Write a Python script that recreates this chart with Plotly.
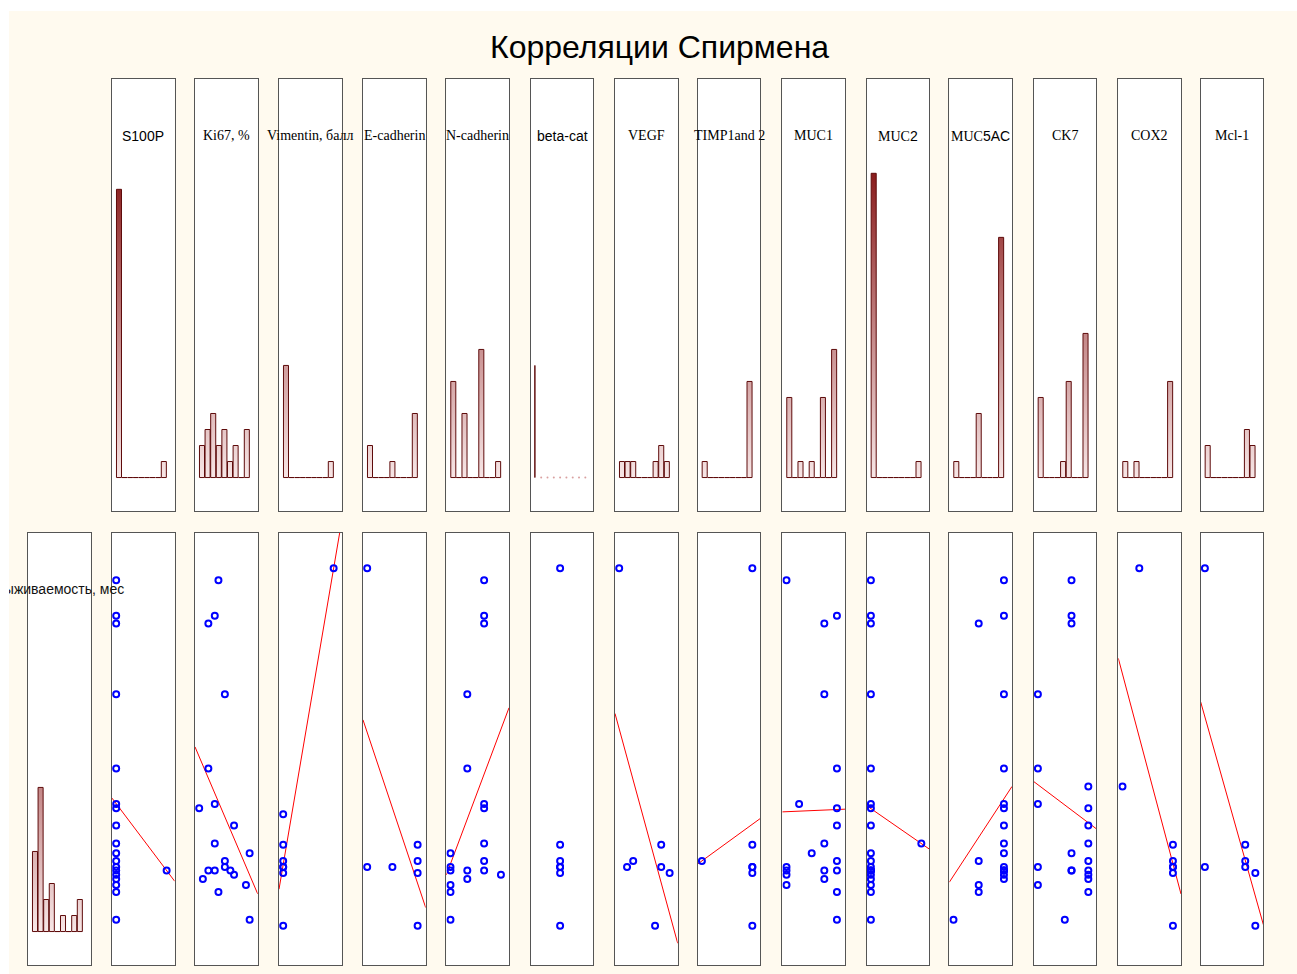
import numpy as np
import plotly.graph_objects as go

# ---------------- data ----------------
TITLE = "Корреляции Спирмена"
SURV_LABEL = "Выживаемость, мес"

labels = ["S100P", "Ki67, %", "Vimentin, балл", "E-cadherin", "N-cadherin",
          "beta-cat", "VEGF", "TIMP1and 2", "MUC1", "MUC2", "MUC5AC",
          "CK7", "COX2", "Mcl-1"]

# x = marker value, y = survival, months
s100p_x = [0, 0, 0, 0, 0, 0, 0, 0, 0, 0, 0, 0, 0, 0, 0, 0, 0, 0, 1]
s100p_y = [59.6, 53.7, 52.4, 40.6, 28.2, 22.3, 21.6, 18.7, 15.7, 14.1, 12.8,
           11.8, 11.2, 10.5, 9.8, 8.8, 7.6, 3.0, 11.2]

ki67_x = [26, 22, 15, 33, 15, 5, 22, 43, 22, 60, 33, 33, 15, 22, 39, 43, 9, 56, 26, 60]
ki67_y = [59.6, 53.7, 52.4, 40.6, 28.2, 21.6, 22.3, 18.7, 15.7, 14.1, 12.8,
          11.8, 11.2, 11.2, 11.2, 10.5, 9.8, 8.8, 7.6, 3.0]

vim_x = [0, 0, 0, 0, 0, 0, 0, 3]
vim_y = [20.6, 15.5, 12.8, 11.8, 11.8, 10.8, 2.0, 61.6]

ecad_x = [0, 0, 1, 2, 2, 2, 2]
ecad_y = [61.6, 11.8, 11.8, 15.5, 12.8, 10.8, 2.0]

ncad_x = [2, 2, 2, 1, 1, 2, 2, 2, 0, 0, 0, 1, 2, 2, 3, 1, 0, 0, 0]
ncad_y = [59.6, 53.7, 52.4, 40.6, 28.2, 22.3, 21.6, 15.7, 14.1, 11.8, 11.2,
          11.2, 12.8, 11.2, 10.5, 9.8, 8.8, 7.6, 3.0]

bcat_x = [2, 2, 2, 2, 2, 2, 2]
bcat_y = [61.6, 15.5, 12.8, 11.8, 11.8, 10.8, 2.0]

vegf_x = [0, 1.4, 2.5, 7.5, 7.5, 9, 6.4]
vegf_y = [61.6, 11.8, 12.8, 15.5, 11.8, 10.8, 2.0]

timp_x = [0, 1, 1, 1, 1, 1, 1]
timp_y = [12.8, 61.6, 15.5, 11.8, 11.8, 10.8, 2.0]

muc1_x = [0, 0, 0, 0, 0, 1, 2, 3, 3, 3, 3, 3, 4, 4, 4, 4, 4, 4, 4, 4]
muc1_y = [59.6, 11.8, 11.2, 10.5, 8.8, 22.3, 14.1, 52.4, 40.6, 15.7, 11.2,
          9.8, 53.7, 28.2, 21.6, 18.7, 12.8, 11.2, 7.6, 3.0]

muc2_x = [0, 0, 0, 0, 0, 0, 0, 0, 0, 0, 0, 0, 0, 0, 0, 0, 0, 0, 0, 1]
muc2_y = [59.6, 53.7, 52.4, 40.6, 28.2, 22.3, 21.6, 18.7, 14.1, 12.8, 11.8,
          11.2, 11.2, 11.2, 10.5, 9.8, 8.8, 7.6, 3.0, 15.7]

muc5ac_x = [0, 1, 1, 1, 1, 2, 2, 2, 2, 2, 2, 2, 2, 2, 2, 2, 2, 2, 2, 2]
muc5ac_y = [3.0, 52.4, 12.8, 8.8, 7.6, 59.6, 53.7, 40.6, 28.2, 22.3, 21.6,
            18.7, 15.7, 14.1, 11.8, 11.2, 11.2, 11.2, 10.5, 9.8]

ck7_x = [0, 0, 0, 0, 0, 8, 10, 10, 10, 10, 10, 10, 15, 15, 15, 15, 15, 15, 15, 15, 15]
ck7_y = [40.6, 28.2, 22.3, 11.8, 8.8, 3.0, 59.6, 53.7, 52.4, 14.1, 11.2, 11.2,
         25.2, 21.6, 18.7, 15.7, 12.8, 11.2, 10.5, 9.8, 7.6]

cox2_x = [0, 1, 3, 3, 3, 3, 3, 3]
cox2_y = [25.2, 61.6, 15.5, 12.8, 11.8, 11.8, 10.8, 2.0]

mcl1_x = [0, 0, 4, 4, 4, 5, 5]
mcl1_y = [61.6, 11.8, 15.5, 12.8, 11.8, 10.8, 2.0]

# histogram of survival (bottom-left panel), counts per bin
surv_hist_counts = [5, 9, 2, 3, 0, 1, 0, 1, 2]

columns_x = [s100p_x, ki67_x, vim_x, ecad_x, ncad_x, bcat_x, vegf_x, timp_x,
             muc1_x, muc2_x, muc5ac_x, ck7_x, cox2_x, mcl1_x]
columns_y = [s100p_y, ki67_y, vim_y, ecad_y, ncad_y, bcat_y, vegf_y, timp_y,
             muc1_y, muc2_y, muc5ac_y, ck7_y, cox2_y, mcl1_y]

# ---------------- layout / style ----------------
W_PX, H_PX = 1297, 974
COL_LEFT = [28, 112, 195, 279, 363, 446.3, 530.7, 615, 697.7, 782.3, 866.7,
            949.3, 1033.7, 1118.3, 1200.7]
COL_W = 62.7
TOP_ROW = (79, 511)
BOT_ROW = (533, 965)
LABEL_OFFSET = 57
NBINS = 9

CREAM = "#FFFAEF"
OUTLINE = "#5E0B0B"
GRAD = [[0, "rgb(247,230,230)"], [1, "rgb(138,28,28)"]]
BORDER = "#555555"
SERIF = "Liberation Serif, Times New Roman, serif"
SANS = "Liberation Sans, Arial, sans-serif"

label_html = {
    "MUC2": "MUC<span style='font-family:Liberation Sans'>2</span>",
    "MUC5AC": "MUC<span style='font-family:Liberation Sans'>5AC</span>",
}
sans_labels = {"S100P", "beta-cat"}


def pxx(p):
    return p / W_PX


def pxy(p):
    return 1 - p / H_PX


def value_range(vals):
    lo, hi = float(min(vals)), float(max(vals))
    if hi == lo:
        lo, hi = lo - 0.5, hi + 0.5
    return lo, hi


def axis_range(lo, hi, left=0.083, right=0.16):
    s = hi - lo
    return [lo - left * s, hi + right * s]


def hist_counts(vals, lo, hi, nb=NBINS):
    w = (hi - lo) / nb
    counts = [0] * nb
    for v in vals:
        t = (v - lo) / w
        i = int(np.ceil(t - 1e-9)) - 1
        i = min(max(i, 0), nb - 1)
        counts[i] += 1
    return counts


def bar_polys(edges, counts, frac=0.9):
    xs, ys = [], []
    for i, c in enumerate(counts):
        w = edges[i + 1] - edges[i]
        m = 0.5 * (edges[i] + edges[i + 1])
        l, r = m - frac * w / 2, m + frac * w / 2
        xs += [l, l, r, r, l, None]
        ys += [0, c, c, 0, 0, None]
    return xs, ys


fig = go.Figure()
layout = dict(width=W_PX, height=H_PX, autosize=False,
              margin=dict(l=0, r=0, t=0, b=0, pad=0),
              paper_bgcolor="white", plot_bgcolor="rgba(0,0,0,0)",
              showlegend=False, hovermode=False)
shapes = [dict(type="rect", xref="paper", yref="paper", x0=pxx(9), x1=1,
               y0=0, y1=pxy(11), fillcolor=CREAM, line=dict(width=0), layer="below")]
annotations = []

axis_common = dict(showgrid=False, zeroline=False, showticklabels=False, ticks="",
                   showline=True, mirror=True, linecolor=BORDER, linewidth=1,
                   fixedrange=True)


def add_axes(n, col, row, xr, yr):
    sfx = "" if n == 1 else str(n)
    layout["xaxis" + sfx] = dict(axis_common, domain=[pxx(COL_LEFT[col]), pxx(COL_LEFT[col] + COL_W)],
                                 range=xr, anchor="y" + sfx)
    layout["yaxis" + sfx] = dict(axis_common, domain=[pxy(row[1]), pxy(row[0])],
                                 range=yr, anchor="x" + sfx)
    shapes.append(dict(type="rect", xref="x" + sfx + " domain", yref="y" + sfx + " domain",
                       x0=0, x1=1, y0=0, y1=1, fillcolor="white",
                       line=dict(width=0), layer="below"))
    return "x" + sfx, "y" + sfx


# survival range (shared y axis of bottom row, x axis of survival histogram)
all_surv = [v for col in columns_y for v in col]
s_lo, s_hi = value_range(all_surv)
s_span = s_hi - s_lo
bot_yr = [s_lo - 0.11 * s_span, s_hi + 0.099 * s_span]

# histogram counts for each column
col_info = []
max_count = max(surv_hist_counts)
for xs in columns_x:
    lo, hi = value_range(xs)
    const = min(xs) == max(xs)
    cnt = [len(xs)] + [0] * (NBINS - 1) if const else hist_counts(xs, lo, hi)
    max_count = max(max_count, max(cnt))
    col_info.append((lo, hi, const, cnt))
hist_yr = [-0.11 * max_count, 1.31 * max_count]


def hist_trace(xs, ys, xa, ya):
    return go.Scatter(x=xs, y=ys, mode="lines", fill="toself",
                      line=dict(color=OUTLINE, width=1),
                      fillgradient=dict(type="vertical", colorscale=GRAD,
                                        start=0, stop=max_count),
                      xaxis=xa, yaxis=ya, hoverinfo="skip")


n = 1
# ---- top row: histograms of every marker ----
for k, (lo, hi, const, cnt) in enumerate(col_info):
    xr = axis_range(lo, hi)
    xa, ya = add_axes(n, k + 1, TOP_ROW, xr, hist_yr)
    n += 1
    if const:
        pos = np.linspace(lo, hi, NBINS)
        hx, hy = [], []
        for p, c in zip(pos, cnt):
            hx += [p, p, p, None]
            hy += [0, c, 0, None]
        fig.add_trace(hist_trace(hx, hy, xa, ya))
        fig.add_trace(go.Scatter(x=list(pos[1:]), y=[0] * (NBINS - 1), mode="markers",
                                 marker=dict(size=2, color="#d9a0a0"),
                                 xaxis=xa, yaxis=ya, hoverinfo="skip"))
    else:
        edges = np.linspace(lo, hi, NBINS + 1)
        hx, hy = bar_polys(edges, cnt)
        fig.add_trace(hist_trace(hx, hy, xa, ya))
    lab = labels[k]
    annotations.append(dict(
        x=pxx(COL_LEFT[k + 1] + COL_W / 2), y=pxy(TOP_ROW[0] + LABEL_OFFSET),
        xref="paper", yref="paper", showarrow=False, xanchor="center", yanchor="middle",
        text=label_html.get(lab, lab),
        font=dict(family=SANS if lab in sans_labels else SERIF, size=14, color="black")))

# ---- bottom-left: survival histogram ----
xa, ya = add_axes(n, 0, BOT_ROW, axis_range(s_lo, s_hi), hist_yr)
n += 1
edges = np.linspace(s_lo, s_hi, NBINS + 1)
hx, hy = bar_polys(edges, surv_hist_counts)
fig.add_trace(hist_trace(hx, hy, xa, ya))

# ---- bottom row: survival vs marker scatter + linear fit ----
for k, (lo, hi, const, cnt) in enumerate(col_info):
    xr = axis_range(lo, hi)
    xa, ya = add_axes(n, k + 1, BOT_ROW, xr, bot_yr)
    n += 1
    xs = np.array(columns_x[k], dtype=float)
    ys = np.array(columns_y[k], dtype=float)
    if not const:
        b, a = np.polyfit(xs, ys, 1)
        fig.add_trace(go.Scatter(x=xr, y=[a + b * xr[0], a + b * xr[1]], mode="lines",
                                 line=dict(color="#FF0000", width=1),
                                 xaxis=xa, yaxis=ya, hoverinfo="skip"))
    fig.add_trace(go.Scatter(x=xs, y=ys, mode="markers",
                             marker=dict(symbol="circle-open", size=6, color="#0000FF",
                                         line=dict(width=2, color="#0000FF")),
                             xaxis=xa, yaxis=ya, hoverinfo="skip"))

# ---- survival label (clipped by the cream area, as in the original) ----
sfx = str(n)
layout["xaxis" + sfx] = dict(visible=False, domain=[pxx(9), 1], range=[pxx(9), 1],
                             anchor="y" + sfx, fixedrange=True)
layout["yaxis" + sfx] = dict(visible=False, domain=[0, pxy(11)], range=[0, pxy(11)],
                             anchor="x" + sfx, fixedrange=True)
fig.add_trace(go.Scatter(x=[pxx(COL_LEFT[0] + COL_W / 2)], y=[pxy(BOT_ROW[0] + LABEL_OFFSET)],
                         mode="text", text=[SURV_LABEL], textposition="middle center",
                         textfont=dict(family=SANS, size=14, color="#111111"),
                         cliponaxis=True, xaxis="x" + sfx, yaxis="y" + sfx, hoverinfo="skip"))

annotations.append(dict(x=pxx(659), y=pxy(47), xref="paper", yref="paper", showarrow=False,
                        xanchor="center", yanchor="middle", text=TITLE,
                        font=dict(family=SANS, size=32, color="black")))

layout["shapes"] = shapes
layout["annotations"] = annotations
fig.update_layout(**layout)
fig.write_html("out.html")
